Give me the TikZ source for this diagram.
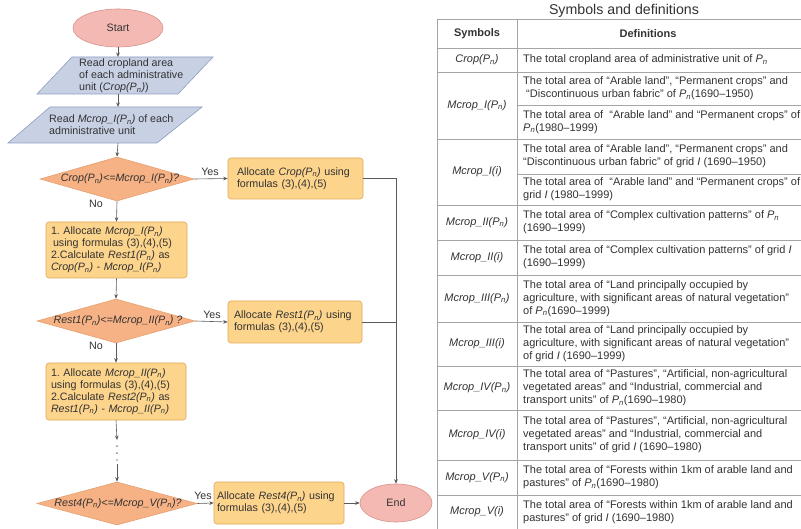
\documentclass[tikz,border=0pt]{standalone}
\usepackage{fontspec}
\setmainfont{Liberation Sans}
\usetikzlibrary{shapes.geometric,arrows.meta}
\definecolor{pinkfill}{HTML}{F4B9B2}
\definecolor{pinkdraw}{HTML}{D9928C}
\definecolor{bluefill}{HTML}{C8D0E4}
\definecolor{bluedraw}{HTML}{8E9DC2}
\definecolor{diafill}{HTML}{F6B184}
\definecolor{diadraw}{HTML}{E6A070}
\definecolor{boxfill}{HTML}{FDD48C}
\definecolor{boxdraw}{HTML}{E0A955}
\definecolor{linecol}{HTML}{5A5A5A}
\definecolor{txt}{HTML}{333333}
\definecolor{gridcol}{HTML}{A5A5A5}
\newcommand{\flowfont}{\fontsize{10.7}{12}\selectfont}
\newcommand{\tabfont}{\fontsize{11}{13}\selectfont}
\newcommand{\myPn}{\textit{P}\textsubscript{\textit{n}}}
\frenchspacing
\hyphenpenalty=10000
\exhyphenpenalty=10000
\begin{document}
\begin{tikzpicture}[x=1pt,y=-1pt,
  conn/.style={draw=linecol, line width=0.6pt},
  arr/.style={conn, -{Stealth[length=4.5pt,width=3.6pt]}},
  term/.style={ellipse, draw=pinkdraw, fill=pinkfill, line width=0.6pt, inner sep=0, font=\flowfont, text=txt},
  decision/.style={diamond, draw=diadraw, fill=diafill, line width=0.6pt, inner sep=0},
  procbox/.style={rectangle, rounded corners=3pt, draw=boxdraw, fill=boxfill, line width=0.6pt, font=\flowfont, text=txt, align=left, inner ysep=0},
  io/.style={draw=bluedraw, fill=bluefill, line width=0.6pt},
  ftext/.style={font=\flowfont, text=txt, inner sep=0, align=left},
  dtext/.style={font=\flowfont\itshape, text=txt, inner sep=0},
  lab/.style={font=\flowfont, text=txt, inner sep=0},
  ttext/.style={font=\tabfont, text=txt, inner sep=0, align=left},
  tsym/.style={font=\tabfont, text=txt, inner sep=0, align=center},
  tabline/.style={draw=gridcol, line width=0.6pt}]
\useasboundingbox (0,0) rectangle (801,529);
\fill[white] (0,0) rectangle (801,529);
\begin{scope}
\clip (0,0) rectangle (801,529);
% ---------------- flowchart ----------------
\node[term, minimum width=90, minimum height=38] (start) at (118,28) {Start};

\draw[io] (72,57) -- (213,57) -- (178,94) -- (37,94) -- cycle;
\node[ftext, anchor=west] (p1) at (79,76) {Read cropland area\\of each administrative\\unit (\textit{Crop(\myPn)})};
\coordinate (p1n) at (118,57);
\coordinate (p1s) at (118,94);

\draw[io] (50,107) -- (202,107) -- (157,143) -- (8,143) -- cycle;
\node[ftext, anchor=west] (p2) at (49,125) {Read \textit{Mcrop\_I(\myPn)} of each\\administrative unit};
\coordinate (p2n) at (118,107);
\coordinate (p2s) at (118,143);

\node[decision, minimum width=154, minimum height=44] (d1) at (117,179) {};
\node[dtext] (d1t) at (120,179) {Crop(\myPn)<=Mcrop\_I(\myPn)?};

\node[procbox, minimum width=135, minimum height=41, text width=117, inner xsep=9] (b1) at (295.5,178.5)
  {Allocate \textit{Crop(\myPn)} using\\formulas (3),(4),(5)};

\node[procbox, minimum width=139, minimum height=56, text width=131, inner xsep=5] (b2) at (116.5,250)
  {1. Allocate \textit{Mcrop\_I(\myPn)}\\\hspace{2pt}using formulas (3),(4),(5)\\2.Calculate \textit{Rest1(\myPn)} as\\\textit{Crop(\myPn) - Mcrop\_I(\myPn)}};

\node[decision, minimum width=158, minimum height=44] (d2) at (116,321) {};
\node[dtext] (d2t) at (118,321) {Rest1(\myPn)<=Mcrop\_II(\myPn) ?};

\node[procbox, minimum width=134, minimum height=42, text width=122, inner xsep=6] (b3) at (295,322)
  {Allocate \textit{Rest1(\myPn)} using\\formulas (3),(4),(5)};

\node[procbox, minimum width=138, minimum height=57, text width=130, inner xsep=5] (b4) at (116,391.5)
  {1. Allocate \textit{Mcrop\_II(\myPn)}\\using formulas (3),(4),(5)\\2.Calculate \textit{Rest2(\myPn)} as\\\textit{Rest1(\myPn) - Mcrop\_II(\myPn)}};

\coordinate (dotA) at (117,440);
\coordinate (dotB) at (117,446);
\coordinate (dotC) at (117,460);
\coordinate (dotD) at (117,464);

\node[decision, minimum width=160, minimum height=43] (d3) at (117,503.5) {};
\node[dtext] (d3t) at (118,503.5) {Rest4(\myPn)<=Mcrop\_V(\myPn)?};

\node[procbox, minimum width=128, minimum height=42, text width=124, inner xsep=3] (b5) at (279,503)
  {Allocate \textit{Rest4(\myPn)} using\\formulas (3),(4),(5)};

\node[term, minimum width=72, minimum height=38] (end) at (396,503) {End};

% connectors
\draw[arr] (start.south) -- (p1n);
\draw[arr] (p1s) -- (p2n);
\draw[arr] (p2s) -- (d1.north);
\draw[arr] (d1.east) -- (b1.west);
\draw[arr] (d1.south) -- (b2.north);
\draw[arr] (b2.south) -- (d2.north);
\draw[arr] (d2.east) -- (b3.west);
\draw[arr] (d2.south) -- (b4.north);
\draw[arr] (b4.south) -- (dotA);
\draw[conn, line cap=round, dash pattern=on 0.1pt off 6.9pt, line width=1.3pt] (dotB) -- (dotC);
\draw[arr] (dotD) -- (d3.north);
\draw[arr] (d3.east) -- (b5.west);
\draw[arr] (b5.east) -- (end.west);
\draw[arr] (b1.east) -- (end.north |- b1.east) -- (end.north);
\draw[conn] (b3.east) -- (end.north |- b3.east);

\node[lab] (y1) at (210,172) {Yes};
\node[lab] (n1) at (96,204) {No};
\node[lab] (y2) at (212,315) {Yes};
\node[lab] (n2) at (96,346) {No};
\node[lab] (y3) at (203,496) {Yes};

% ---------------- table ----------------
\node[font=\fontsize{14.2}{16}\selectfont, text=txt, inner sep=0] (title) at (624,11) {Symbols and definitions};

\foreach \yy in {19,48,72,139,205,240,275,322,366,410,460,495}
  \draw[tabline] (437,\yy) -- (801,\yy);
\foreach \yy in {105,174}
  \draw[tabline] (517,\yy) -- (801,\yy);
\draw[tabline] (437,19) -- (437,529);
\draw[tabline] (517,19) -- (517,529);

\node[tsym, font=\tabfont\bfseries] (hs) at (477,33.5) {Symbols};
\node[tsym, font=\tabfont\bfseries] (hd) at (648,33.5) {Definitions};

\node[tsym] (s1) at (477,60) {\textit{Crop(\myPn)}};
\node[ttext, anchor=west] (t1) at (523,60) {The total cropland area of administrative unit of \myPn};

\node[tsym] (s2) at (477,105.5) {\textit{Mcrop\_I(\myPn)}};
\node[ttext, anchor=west] (t2a) at (523,88.5) {The total area of “Arable land”, “Permanent crops” and\\\hspace{3pt}“Discontinuous urban fabric” of \myPn(1690–1950)};
\node[ttext, anchor=west] (t2b) at (523,122) {The total area of ~“Arable land” and “Permanent crops” of\\\myPn(1980–1999)};

\node[tsym] (s3) at (477,172) {\textit{Mcrop\_I(i)}};
\node[ttext, anchor=west] (t3a) at (523,156.5) {The total area of “Arable land”, “Permanent crops” and\\“Discontinuous urban fabric” of grid \textit{I} (1690–1950)};
\node[ttext, anchor=west] (t3b) at (523,189.5) {The total area of ~“Arable land” and “Permanent crops” of\\grid \textit{I} (1980–1999)};

\node[tsym] (s4) at (477,222.5) {\textit{Mcrop\_II(\myPn)}};
\node[ttext, anchor=west] (t4) at (523,222.5) {The total area of “Complex cultivation patterns” of \myPn\\(1690–1999)};

\node[tsym] (s5) at (477,257.5) {\textit{Mcrop\_II(i)}};
\node[ttext, anchor=west] (t5) at (523,257.5) {The total area of “Complex cultivation patterns” of grid \textit{I}\\(1690–1999)};

\node[tsym] (s6) at (477,298.5) {\textit{Mcrop\_III(\myPn)}};
\node[ttext, anchor=west] (t6) at (523,298.5) {The total area of “Land principally occupied by\\agriculture, with significant areas of natural vegetation”\\of \myPn(1690–1999)};

\node[tsym] (s7) at (477,344) {\textit{Mcrop\_III(i)}};
\node[ttext, anchor=west] (t7) at (523,344) {The total area of “Land principally occupied by\\agriculture, with significant areas of natural vegetation”\\of grid \textit{I} (1690–1999)};

\node[tsym] (s8) at (477,388) {\textit{Mcrop\_IV(\myPn)}};
\node[ttext, anchor=west] (t8) at (523,388) {The total area of “Pastures”, “Artificial, non-agricultural\\vegetated areas” and “Industrial, commercial and\\transport units” of \myPn(1690–1980)};

\node[tsym] (s9) at (477,435) {\textit{Mcrop\_IV(i)}};
\node[ttext, anchor=west] (t9) at (523,435) {The total area of “Pastures”, “Artificial, non-agricultural\\vegetated areas” and “Industrial, commercial and\\transport units” of grid \textit{I} (1690–1980)};

\node[tsym] (s10) at (477,477.5) {\textit{Mcrop\_V(\myPn)}};
\node[ttext, anchor=west] (t10) at (523,477.5) {The total area of “Forests within 1km of arable land and\\pastures” of \myPn(1690–1980)};

\node[tsym] (s11) at (477,512) {\textit{Mcrop\_V(i)}};
\node[ttext, anchor=west] (t11) at (523,512) {The total area of “Forests within 1km of arable land and\\pastures” of grid \textit{I} (1690–1980)};
\end{scope}
\end{tikzpicture}
\end{document}
